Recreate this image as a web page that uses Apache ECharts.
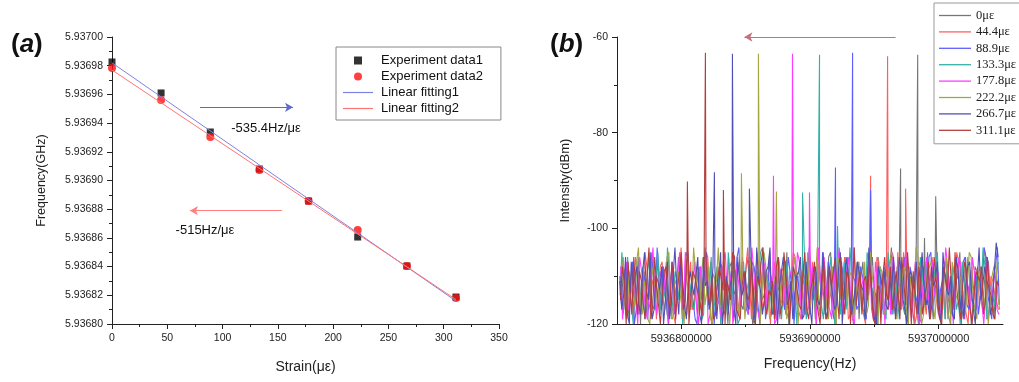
<!DOCTYPE html>
<html><head><meta charset="utf-8">
<script src="https://cdn.jsdelivr.net/npm/echarts@6/dist/echarts.min.js"></script>
<style>html,body{margin:0;padding:0;background:#fff}#c{width:1019px;height:382px}</style>
</head><body><div id="c"></div>
<script>
// ---------- Panel (a) data ----------
const strain = [0, 44.4, 88.9, 133.3, 177.8, 222.2, 266.7, 311.1];
const exp1 = [5.9369826, 5.9369610, 5.9369338, 5.9369080, 5.9368857, 5.9368606, 5.9368404, 5.9368188];
const exp2 = [5.9369784, 5.9369561, 5.9369303, 5.9369073, 5.9368857, 5.9368655, 5.9368404, 5.9368181];
const fit1 = [[0, 5.936982], [311.1, 5.936816]];
const fit2 = [[0, 5.936977], [311.1, 5.936817]];
const leftNames = ['Experiment data1', 'Experiment data2', 'Linear fitting1', 'Linear fitting2'];
const arrowBlue = [[79.6, 5.936951], [163.7, 5.936951]];
const arrowRed = [[153.7, 5.936879], [70.5, 5.936879]];
const labelBlue = [139.3, 5.9369366, '-535.4Hz/με'];
const labelRed = [84.1, 5.9368655, '-515Hz/με'];

// ---------- Panel (b) data ----------
const rightNames = ['0με', '44.4με', '88.9με', '133.3με', '177.8με', '222.2με', '266.7με', '311.1με'];
const freqTicks = [5936800000, 5936900000, 5937000000];
const freqMinorTicks = [5936850000, 5936950000];
const noiseStart = 5936752000;
const noiseEnd = 5937046000;
const noiseOffsets = [0, 550, 1150, 300, 850, 1400, 200, 700];
// noise samples (dBm), set A at even sample positions, set B at odd positions
const n0 = [-111,-108,-114,-110,-116,-107,-112,-118,-109,-113,-106,-115,-111,-119,-108,-112,-110,-116,-105,-113,-117,-109,-111,-114,-107,-118,-110,-112,-115,-108,-113,-106,-116,-111,-109,-120,-112,-107,-114,-110,-117,-108,-113,-111,-105,-115,-119,-109,-112,-116,-107,-111,-114,-110,-118,-106,-113,-109,-115,-112,-108,-116,-111,-119,-107,-113,-110,-114,-106,-117,-112,-109,-115,-108,-111,-118,-110,-113,-107,-116,-112,-105,-114,-109,-117,-111,-108,-115,-113,-110,-119,-106,-112,-116,-109,-114,-111,-107,-113,-110];
const n1 = [-113,-109,-116,-111,-106,-118,-112,-108,-115,-110,-119,-107,-113,-111,-116,-109,-104,-114,-112,-117,-108,-111,-115,-106,-120,-110,-113,-108,-116,-112,-109,-118,-107,-114,-111,-115,-105,-112,-117,-109,-113,-110,-119,-108,-114,-111,-106,-116,-112,-109,-118,-113,-107,-115,-110,-117,-108,-112,-114,-106,-119,-111,-113,-109,-116,-108,-112,-120,-107,-114,-110,-115,-111,-105,-117,-109,-113,-112,-118,-108,-115,-110,-106,-114,-119,-111,-109,-116,-112,-107,-113,-118,-110,-115,-108,-112,-105,-117,-111,-114];
const n2 = [-109,-115,-111,-107,-117,-113,-110,-119,-106,-114,-112,-108,-116,-111,-118,-109,-113,-105,-115,-112,-120,-108,-111,-116,-110,-114,-107,-118,-112,-109,-115,-104,-113,-117,-110,-108,-116,-111,-119,-107,-112,-114,-109,-117,-106,-113,-111,-115,-108,-118,-110,-112,-116,-105,-114,-109,-119,-111,-107,-115,-113,-110,-117,-108,-112,-106,-116,-114,-109,-118,-111,-107,-113,-115,-110,-120,-108,-112,-116,-109,-114,-106,-117,-111,-113,-108,-119,-110,-115,-112,-107,-116,-109,-113,-118,-111,-106,-114,-110,-104];
const n3 = [-114,-110,-106,-116,-112,-118,-108,-113,-111,-117,-105,-112,-115,-109,-119,-111,-107,-114,-110,-116,-113,-108,-118,-112,-106,-115,-111,-109,-117,-113,-107,-120,-110,-114,-108,-112,-116,-105,-113,-111,-118,-109,-115,-112,-107,-117,-110,-114,-108,-119,-111,-113,-106,-116,-112,-109,-115,-110,-118,-107,-113,-111,-114,-108,-117,-105,-112,-116,-110,-113,-119,-109,-111,-115,-107,-118,-112,-110,-114,-106,-116,-111,-113,-108,-117,-112,-109,-120,-110,-115,-107,-113,-111,-116,-109,-114,-108,-118,-112,-110];
const n4 = [-108,-113,-117,-110,-115,-106,-112,-119,-109,-114,-111,-116,-107,-113,-118,-110,-112,-105,-115,-111,-117,-108,-114,-120,-109,-112,-116,-107,-113,-110,-118,-111,-106,-115,-112,-109,-117,-113,-108,-114,-111,-119,-106,-112,-116,-110,-113,-107,-118,-111,-115,-109,-104,-114,-112,-117,-108,-113,-110,-116,-106,-119,-111,-114,-109,-112,-117,-107,-115,-110,-113,-118,-108,-111,-116,-105,-114,-112,-109,-119,-110,-115,-107,-113,-117,-111,-108,-114,-112,-106,-116,-110,-118,-109,-113,-111,-115,-107,-112,-117];
const n5 = [-112,-117,-109,-114,-107,-116,-111,-119,-108,-113,-110,-115,-106,-118,-112,-109,-114,-111,-117,-104,-113,-110,-116,-108,-120,-111,-114,-107,-115,-112,-109,-118,-110,-113,-106,-116,-111,-114,-108,-119,-112,-110,-115,-107,-117,-113,-109,-111,-116,-105,-114,-112,-118,-108,-113,-110,-117,-106,-115,-111,-109,-119,-112,-114,-107,-116,-110,-113,-108,-118,-111,-105,-115,-112,-109,-117,-110,-114,-106,-120,-112,-108,-116,-111,-113,-109,-118,-107,-114,-110,-115,-112,-106,-117,-109,-113,-111,-116,-108,-114];
const n6 = [-110,-114,-118,-107,-112,-116,-109,-113,-105,-117,-111,-108,-115,-119,-110,-113,-107,-116,-112,-109,-114,-118,-106,-111,-115,-108,-113,-120,-110,-112,-116,-107,-114,-109,-117,-111,-104,-113,-115,-108,-118,-110,-112,-106,-116,-111,-114,-109,-119,-107,-113,-110,-115,-112,-117,-108,-111,-116,-105,-114,-109,-118,-112,-107,-113,-115,-110,-119,-108,-112,-116,-111,-106,-114,-109,-117,-110,-113,-107,-118,-112,-115,-108,-111,-116,-105,-113,-110,-119,-109,-114,-112,-107,-117,-111,-115,-108,-112,-116,-103];
const n7 = [-115,-111,-107,-118,-113,-109,-116,-110,-119,-106,-112,-114,-108,-117,-111,-113,-105,-115,-120,-109,-112,-116,-107,-114,-110,-118,-108,-113,-111,-115,-106,-117,-112,-109,-114,-119,-110,-107,-116,-113,-111,-108,-118,-105,-114,-112,-110,-116,-109,-117,-113,-107,-115,-111,-119,-108,-112,-114,-106,-118,-110,-113,-116,-109,-111,-115,-107,-120,-112,-110,-114,-108,-117,-113,-106,-116,-111,-109,-118,-112,-114,-107,-115,-110,-119,-108,-113,-111,-105,-116,-112,-109,-117,-114,-110,-108,-115,-113,-118,-111];
const m0 = [-116,-110,-119,-107,-113,-120,-109,-115,-105,-117,-112,-108,-118,-111,-114,-106,-119,-110,-113,-117,-108,-115,-104,-112,-118,-109,-116,-111,-120,-107,-114,-110,-117,-106,-113,-119,-108,-115,-111,-105,-118,-112,-109,-116,-120,-107,-113,-110,-117,-106,-114,-119,-109,-112,-115,-105,-118,-111,-108,-116,-113,-120,-107,-110,-117,-114,-106,-119,-112,-109,-115,-104,-118,-111,-116,-108,-113,-120,-110,-106,-117,-112,-119,-109,-114,-107,-115,-118,-111,-105,-116,-113,-120,-108,-110,-117,-106,-114,-119,-112];
const m1 = [-107,-118,-112,-120,-109,-115,-105,-117,-111,-119,-108,-114,-106,-116,-120,-110,-113,-118,-107,-115,-111,-119,-105,-113,-117,-109,-120,-112,-106,-116,-110,-118,-114,-104,-119,-111,-108,-117,-113,-120,-107,-115,-109,-118,-112,-105,-116,-119,-110,-114,-107,-120,-111,-106,-117,-113,-119,-108,-115,-110,-118,-104,-112,-116,-120,-109,-114,-106,-118,-111,-117,-108,-119,-113,-105,-116,-110,-120,-107,-114,-118,-111,-106,-117,-112,-119,-109,-115,-105,-118,-113,-120,-108,-111,-116,-106,-119,-110,-114,-117];
const m2 = [-118,-108,-114,-120,-106,-116,-111,-119,-109,-104,-117,-113,-120,-107,-115,-110,-118,-106,-112,-119,-109,-116,-105,-114,-120,-111,-108,-117,-113,-119,-106,-115,-110,-118,-107,-112,-120,-105,-116,-111,-119,-108,-114,-117,-106,-120,-110,-113,-118,-104,-115,-109,-119,-112,-107,-117,-120,-110,-114,-106,-118,-111,-116,-108,-119,-105,-113,-120,-109,-115,-107,-118,-112,-117,-106,-119,-110,-114,-120,-108,-116,-105,-113,-118,-111,-107,-119,-115,-109,-120,-106,-117,-112,-110,-118,-104,-114,-119,-108,-116];
const m3 = [-105,-117,-111,-120,-108,-114,-119,-106,-116,-110,-118,-113,-104,-119,-109,-115,-120,-107,-112,-117,-110,-119,-106,-114,-118,-108,-120,-111,-105,-116,-113,-119,-107,-117,-110,-120,-109,-104,-118,-112,-115,-106,-119,-111,-117,-108,-120,-113,-105,-116,-110,-118,-107,-119,-114,-106,-120,-109,-112,-117,-104,-118,-111,-115,-119,-107,-113,-120,-108,-116,-105,-118,-110,-119,-112,-106,-117,-114,-120,-109,-107,-118,-113,-105,-116,-119,-110,-108,-117,-120,-111,-106,-115,-118,-109,-104,-119,-112,-116,-107];
const m4 = [-119,-107,-115,-110,-120,-106,-117,-112,-104,-118,-109,-116,-120,-108,-113,-105,-119,-111,-117,-107,-120,-114,-106,-118,-110,-115,-119,-105,-112,-120,-108,-116,-111,-118,-104,-114,-119,-107,-117,-110,-120,-106,-113,-118,-109,-115,-105,-119,-112,-117,-108,-120,-110,-106,-116,-119,-113,-104,-118,-109,-115,-120,-107,-112,-117,-106,-119,-111,-114,-120,-108,-105,-118,-113,-116,-110,-119,-107,-120,-112,-106,-117,-114,-109,-118,-104,-115,-120,-110,-108,-119,-113,-106,-117,-111,-120,-107,-116,-109,-118];
const m5 = [-106,-119,-111,-116,-104,-118,-113,-120,-108,-115,-110,-117,-105,-119,-112,-114,-120,-107,-116,-109,-118,-106,-113,-119,-110,-104,-117,-112,-120,-108,-115,-106,-119,-111,-117,-109,-120,-105,-114,-118,-110,-107,-116,-119,-112,-106,-120,-109,-115,-118,-111,-104,-117,-113,-119,-108,-120,-106,-112,-116,-110,-119,-107,-115,-118,-105,-113,-120,-109,-117,-111,-106,-119,-114,-108,-120,-112,-104,-116,-118,-110,-107,-119,-113,-117,-106,-120,-109,-115,-111,-118,-105,-114,-119,-108,-116,-120,-110,-107,-117];
const m6 = [-117,-106,-120,-112,-108,-118,-105,-115,-119,-110,-113,-120,-107,-116,-104,-118,-111,-119,-109,-114,-106,-120,-112,-117,-108,-119,-105,-115,-118,-110,-120,-107,-113,-116,-106,-119,-111,-118,-109,-104,-117,-120,-112,-107,-115,-119,-110,-106,-118,-113,-120,-108,-116,-105,-119,-111,-117,-109,-120,-106,-114,-118,-107,-112,-119,-104,-116,-120,-110,-108,-117,-113,-119,-106,-115,-120,-109,-111,-118,-105,-116,-119,-112,-107,-120,-110,-114,-118,-106,-117,-119,-108,-113,-120,-104,-115,-111,-118,-109,-106];
const m7 = [-108,-120,-113,-106,-118,-111,-119,-104,-116,-112,-120,-109,-115,-107,-119,-113,-117,-105,-120,-110,-114,-118,-106,-116,-119,-111,-108,-120,-113,-105,-117,-119,-109,-115,-107,-120,-112,-104,-118,-114,-119,-106,-116,-110,-120,-108,-113,-117,-105,-119,-111,-115,-120,-107,-118,-112,-106,-119,-114,-109,-120,-104,-116,-118,-110,-107,-119,-113,-120,-106,-115,-117,-109,-119,-111,-105,-120,-114,-108,-118,-112,-119,-106,-116,-120,-110,-104,-117,-113,-119,-107,-115,-120,-109,-111,-118,-106,-114,-119,-112];
const noiseA = [n0, n1, n2, n3, n4, n5, n6, n7];
const noiseB = [m0, m1, m2, m3, m4, m5, m6, m7];
const peaks = [
  [[5936970400, -87.5], [5936983700, -63.7], [5936989000, -102], [5936997700, -93.3]],
  [[5936947100, -89.0], [5936960300, -64.0], [5936974300, -91.7]],
  [[5936919800, -87.3], [5936933100, -63.3], [5936947100, -92.0]],
  [[5936894200, -92.5], [5936907400, -63.7], [5936921400, -99.5]],
  [[5936871600, -89.0], [5936886400, -63.5], [5936899600, -92.5]],
  [[5936846700, -88.5], [5936859900, -63.5], [5936873900, -92.3]],
  [[5936825700, -88.3], [5936839700, -63.5], [5936852900, -91.7]],
  [[5936804700, -90.2], [5936818700, -63.3], [5936832700, -92.0]]
];
const arrowTop = [[5936966500, -60], [5936849000, -60]];

// ---------- styles ----------
const rightColors = ['#767676', '#ff5e5e', '#5c5cff', '#33b0aa', '#ff3cff', '#a5a545', '#5050b4', '#b53c3c'];
const axisColor = '#222';
const sans = 'Liberation Sans, Arial, sans-serif';
const lineIcon = 'path://M0,0L30,0L30,1.2L0,1.2Z';
const squareIcon = 'path://M0,0L10,0L10,10L0,10Z';

function spectrum(k) {
  const dense = [];
  noiseA[k].forEach((v, i) => { dense.push(v); dense.push(noiseB[k][i]); });
  const step = (noiseEnd - noiseStart) / (dense.length - 1);
  const pts = dense.map((v, i) => [noiseStart + noiseOffsets[k] + i * step, v]);
  peaks[k].forEach(p => pts.push(p));
  pts.sort((a, b) => a[0] - b[0]);
  return pts;
}

const chart = echarts.init(document.getElementById('c'), null, { renderer: 'canvas' });

const baseAxis = {
  axisLine: { show: true, onZero: false, lineStyle: { color: axisColor, width: 1 } },
  axisTick: { show: true, length: 5, lineStyle: { color: axisColor } },
  minorTick: { show: true, splitNumber: 2, length: 3, lineStyle: { color: axisColor } },
  splitLine: { show: false },
  nameTextStyle: { color: axisColor, fontFamily: sans }
};

const rightSeries = rightNames.map((name, k) => ({
  name, type: 'line', xAxisIndex: 1, yAxisIndex: 1,
  data: spectrum(k), symbol: 'none', clip: true,
  lineStyle: { width: 1.1, color: rightColors[k] },
  itemStyle: { color: rightColors[k] },
  animation: false
}));
rightSeries[0].markLine = {
  silent: true, symbol: ['none', 'arrow'], symbolSize: [7, 8],
  lineStyle: { color: '#c4707e', width: 1, type: 'solid' },
  itemStyle: { color: '#9a1f3a' },
  label: { show: false },
  data: [[{ coord: arrowTop[0] }, { coord: arrowTop[1] }]]
};

const titleRich = { p: { fontSize: 26, fontWeight: 'bold', fontFamily: sans, color: '#111' }, i: { fontSize: 26, fontWeight: 'bold', fontStyle: 'italic', fontFamily: sans, color: '#111' } };

const option = {
  animation: false,
  backgroundColor: '#fff',
  title: [
    { text: '{p|(}{i|a}{p|)}', left: 6, top: 27, textStyle: { rich: titleRich } },
    { text: '{p|(}{i|b}{p|)}', left: 545, top: 27, textStyle: { rich: titleRich } }
  ],
  grid: [
    { left: 112, top: 37, width: 387, height: 287 },
    { left: 617, top: 37, width: 386, height: 287 }
  ],
  legend: [
    { data: [
        { name: leftNames[0], icon: squareIcon },
        { name: leftNames[1], icon: 'circle' },
        { name: leftNames[2], icon: lineIcon },
        { name: leftNames[3], icon: lineIcon }
      ],
      orient: 'vertical', left: 336, top: 47, symbolKeepAspect: true,
      padding: [7, 18, 5, 7], itemWidth: 30, itemHeight: 8, itemGap: 3,
      borderColor: '#888', borderWidth: 1, backgroundColor: '#fff',
      textStyle: { fontSize: 13, fontFamily: sans, color: '#111', padding: [0, 0, 0, 3] }, selectedMode: false },
    { data: rightNames.map(n => ({ name: n, icon: lineIcon })),
      orient: 'vertical', left: 934, top: 3, symbolKeepAspect: true,
      padding: [6, 10, 7, 5], itemWidth: 32, itemHeight: 8, itemGap: 3.4,
      borderColor: '#999', borderWidth: 1, backgroundColor: '#fff',
      textStyle: { fontSize: 12.5, fontFamily: 'Liberation Serif, Times New Roman, serif', color: '#222' }, selectedMode: false }
  ],
  xAxis: [
    Object.assign({}, baseAxis, {
      gridIndex: 0, type: 'value', min: 0, max: 350, interval: 50,
      name: 'Strain(με)', nameLocation: 'middle', nameGap: 36,
      nameTextStyle: { color: axisColor, fontFamily: sans, fontSize: 14 },
      axisLabel: { fontSize: 10.5, color: axisColor, fontFamily: sans, margin: 9 }
    }),
    Object.assign({}, baseAxis, {
      gridIndex: 1, type: 'value', min: 5936750000, max: 5937050000, position: 'bottom',
      name: 'Frequency(Hz)', nameLocation: 'middle', nameGap: 33,
      nameTextStyle: { color: axisColor, fontFamily: sans, fontSize: 14 },
      minorTick: { show: false },
      axisTick: { show: true, length: 5, customValues: freqTicks, lineStyle: { color: axisColor } },
      axisLabel: { fontSize: 11, color: axisColor, fontFamily: sans, margin: 9, customValues: freqTicks, formatter: v => String(Math.round(v)) }
    }),
    {
      gridIndex: 1, type: 'value', min: 5936750000, max: 5937050000, position: 'bottom', offset: 0,
      axisLine: { show: false }, splitLine: { show: false }, axisLabel: { show: false },
      axisTick: { show: true, length: 3, customValues: freqMinorTicks, lineStyle: { color: axisColor } }
    }
  ],
  yAxis: [
    Object.assign({}, baseAxis, {
      gridIndex: 0, type: 'value', min: 5.9368, max: 5.937, interval: 0.00002,
      name: 'Frequency(GHz)', nameLocation: 'middle', nameGap: 64,
      nameTextStyle: { color: axisColor, fontFamily: sans, fontSize: 12.5 },
      axisLabel: { fontSize: 10.5, color: axisColor, fontFamily: sans, margin: 9, formatter: v => v.toFixed(5) }
    }),
    Object.assign({}, baseAxis, {
      gridIndex: 1, type: 'value', min: -120, max: -60, interval: 20,
      name: 'Intensity(dBm)', nameLocation: 'middle', nameGap: 45,
      nameTextStyle: { color: axisColor, fontFamily: sans, fontSize: 13 },
      axisLabel: { fontSize: 10.5, color: axisColor, fontFamily: sans, margin: 9 }
    })
  ],
  series: [
    { name: leftNames[2], type: 'line', xAxisIndex: 0, yAxisIndex: 0, data: fit1, symbol: 'none',
      lineStyle: { width: 1, color: '#7c84e0' }, itemStyle: { color: '#7c84e0' },
      markLine: { silent: true, symbol: ['none', 'arrow'], symbolSize: [7, 8],
        lineStyle: { color: '#5a6ad0', width: 1, type: 'solid' }, itemStyle: { color: '#1f2e9a' },
        label: { show: false }, data: [[{ coord: arrowBlue[0] }, { coord: arrowBlue[1] }]] },
      markPoint: { silent: true, symbol: 'circle', symbolSize: 0,
        label: { show: true, position: 'inside', formatter: p => p.name, fontSize: 13, fontFamily: sans, color: '#111' },
        data: [{ name: labelBlue[2], coord: [labelBlue[0], labelBlue[1]] }] } },
    { name: leftNames[3], type: 'line', xAxisIndex: 0, yAxisIndex: 0, data: fit2, symbol: 'none',
      lineStyle: { width: 1, color: '#ff7474' }, itemStyle: { color: '#ff7474' },
      markLine: { silent: true, symbol: ['none', 'arrow'], symbolSize: [7, 8],
        lineStyle: { color: '#ff8080', width: 1, type: 'solid' }, itemStyle: { color: '#e02020' },
        label: { show: false }, data: [[{ coord: arrowRed[0] }, { coord: arrowRed[1] }]] },
      markPoint: { silent: true, symbol: 'circle', symbolSize: 0,
        label: { show: true, position: 'inside', formatter: p => p.name, fontSize: 13, fontFamily: sans, color: '#111' },
        data: [{ name: labelRed[2], coord: [labelRed[0], labelRed[1]] }] } },
    { name: leftNames[0], type: 'scatter', xAxisIndex: 0, yAxisIndex: 0,
      data: strain.map((s, i) => [s, exp1[i]]), symbol: 'rect', symbolSize: 7, itemStyle: { color: '#000' } },
    { name: leftNames[1], type: 'scatter', xAxisIndex: 0, yAxisIndex: 0,
      data: strain.map((s, i) => [s, exp2[i]]), symbol: 'circle', symbolSize: 8, itemStyle: { color: '#ff1010' } }
  ].concat(rightSeries)
};
chart.setOption(option);
</script>
</body></html>
